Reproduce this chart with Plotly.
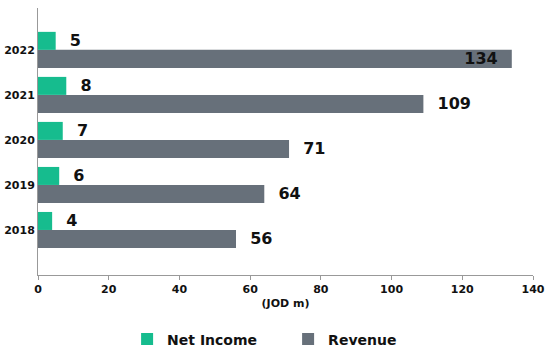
import plotly.graph_objects as go

years = ["2018", "2019", "2020", "2021", "2022"]
net_income = [4, 6, 7, 8, 5]
revenue = [56, 64, 71, 109, 134]
x_ticks = [0, 20, 40, 60, 80, 100, 120, 140]

GREEN = "#16BC8E"
GREY = "#67707A"
FONT = "DejaVu Sans"

rev_pos = ["outside"] * 4 + ["inside"]

fig = go.Figure()
fig.add_trace(go.Bar(
    name="Revenue", y=years, x=revenue, orientation="h",
    marker=dict(color=GREY, line=dict(width=0)),
    text=revenue, texttemplate=["  %{x}"] * 4 + ["%{x}  "],
    textposition=rev_pos, insidetextanchor="end",
    textfont=dict(family=FONT, size=16, color="#111111", weight="bold"),
    constraintext="none", cliponaxis=False, legendrank=2,
))
fig.add_trace(go.Bar(
    name="Net Income", y=years, x=net_income, orientation="h",
    marker=dict(color=GREEN, line=dict(width=0)),
    text=net_income, texttemplate="  %{x}",
    textposition="outside",
    textfont=dict(family=FONT, size=16, color="#111111", weight="bold"),
    constraintext="none", cliponaxis=False, legendrank=1,
))

fig.update_layout(
    width=550, height=350,
    margin=dict(l=38, r=17, t=8, b=75),
    barmode="group", bargap=0.2, bargroupgap=0,
    plot_bgcolor="white", paper_bgcolor="white",
    font=dict(family=FONT, size=11, color="#111111", weight="bold"),
    showlegend=True,
    legend=dict(orientation="h", x=0.18, xanchor="left",
                yref="container", y=0.03, yanchor="middle",
                entrywidth=116, entrywidthmode="pixels",
                font=dict(family=FONT, size=14, color="#111111", weight="bold"),
                traceorder="normal"),
    xaxis=dict(range=[0, 140], tickvals=x_ticks, showgrid=False, zeroline=False,
               showline=True, linecolor="#999999", linewidth=1, automargin=False,
               ticks="outside", ticklen=4, tickcolor="#999999",
               title=dict(text="(JOD m)", standoff=4,
                          font=dict(family=FONT, size=11, weight="bold"))),
    yaxis=dict(range=[-1, 4.93], showgrid=False, zeroline=False, automargin=False,
               showline=True, linecolor="#999999", linewidth=1, ticks="",
               tickfont=dict(family=FONT, size=11, weight="bold")),
)

fig.write_html("out.html", config={"displayModeBar": False},
               post_script="document.body.style.margin='0';")
